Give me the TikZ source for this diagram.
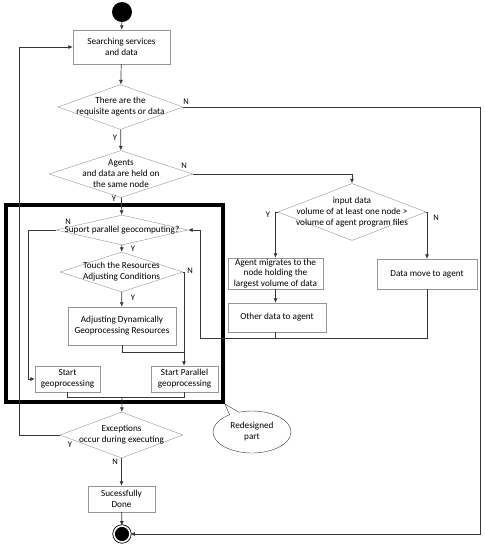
\documentclass[tikz,border=0pt]{standalone}
\usepackage{fontspec}
\setmainfont{Carlito}
\usetikzlibrary{shapes.geometric,shapes.callouts,arrows.meta}

\definecolor{flowBorder}{RGB}{150,150,150}
\definecolor{flowLine}{RGB}{55,55,55}

\tikzset{
  process/.style={draw=flowBorder, rectangle, align=center, inner sep=1pt},
  decision/.style={draw=flowBorder, diamond, inner sep=0pt},
  dtext/.style={align=center, inner sep=0pt},
  flow/.style={draw=flowLine, line width=0.7pt, -{Latex[length=4.5pt,width=4pt]}},
  plain/.style={draw=flowLine, line width=0.7pt},
  yn/.style={inner sep=0pt, font=\fontsize{8.5}{9}\selectfont},
}

\begin{document}
\begin{tikzpicture}[x=1pt, y=-1pt, font=\fontsize{9.2}{11}\selectfont]
\useasboundingbox (0,0) rectangle (485,550);
%% start and first checks
\node[circle, fill=black, minimum size=20pt, inner sep=0pt] (start) at (122,12) {};
\node[process, minimum width=97pt, minimum height=34pt] (search) at (121.5,47)
  {Searching services\\and data};
\node[decision, minimum width=125pt, minimum height=45pt] (d1) at (120.5,107) {};
\node[dtext] at (d1) {There are the\\requisite agents or data};
\node[decision, minimum width=144pt, minimum height=47pt] (d2) at (121,174) {};
\node[dtext] at (d2) {Agents\\and data are held on\\the same node};
%% moving agents or data
\node[decision, minimum width=148pt, minimum height=57pt] (d3) at (352,212) {};
\node[dtext] at (d3) {input data\\volume of at least one node >\\volume of agent program files};
\node[process, minimum width=95pt, minimum height=31pt, inner sep=0pt,
      font=\fontsize{9.2}{10.5}\selectfont] (agent) at (275.5,273.5)
  {Agent migrates to the\\node holding the\\largest volume of data};
\node[process, minimum width=98pt, minimum height=29pt] (other) at (277,317.5)
  {Other data to agent};
\node[process, minimum width=100pt, minimum height=30pt] (data) at (427,274)
  {Data move to agent};
%% redesigned part
\node[draw=black, line width=3.5pt, minimum width=217pt, minimum height=197pt,
      inner sep=0pt] (frame) at (114.5,303.5) {};
\node[decision, minimum width=132pt, minimum height=30pt] (d4) at (122,230) {};
\node[dtext] at (d4) {Suport parallel geocomputing?};
\node[decision, minimum width=123pt, minimum height=40pt] (d5) at (121.5,272) {};
\node[dtext] at (d5) {Touch the Resources\\Adjusting Conditions};
\node[process, minimum width=108pt, minimum height=38pt] (adjust) at (122,326)
  {Adjusting Dynamically\\Geoprocessing Resources};
\node[process, minimum width=65pt, minimum height=26pt] (startgeo) at (67.5,379)
  {Start\\geoprocessing};
\node[process, minimum width=67pt, minimum height=26pt] (startpar) at (184.5,379)
  {Start Parallel\\geoprocessing};
%% ending
\node[decision, minimum width=123pt, minimum height=46pt] (d6) at (121.5,435) {};
\node[dtext] at (d6) {Exceptions\\occur during executing};
\node[process, minimum width=67pt, minimum height=26pt] (done) at (121.5,499)
  {Sucessfully\\Done};
\node[circle, fill=black, draw=black, line width=0.8pt, double=white,
      double distance=1.6pt, minimum size=16pt, inner sep=0pt] (stop) at (122,534) {};
\node[ellipse callout, draw=flowLine, align=center, inner sep=0pt,
      minimum width=78pt, minimum height=42pt,
      callout absolute pointer={(frame.south east)}] (note) at (252,432)
  {Redesigned\\part};

%% connectors
\coordinate (joinR) at (200,338);
\coordinate (joinL) at (122,397);
\draw[flow] (start) -- (search);
\draw[flow] (search) -- (d1);
\draw[flow] (d1) -- (d2);
\draw[flow] (d1.east) -- (480,107) |- (stop.east);
\draw[flow] (d2) -- (d4);
\draw[flow] (d2.east) -| (d3.north);
\draw[flow] (d3.west) -| (agent.north);
\draw[flow] (d3.east) -| (data.north);
\draw[flow] (agent.south) -- (agent.south |- other.north);
\draw[plain] (other.south -| agent.south) -- (agent.south |- joinR);
\draw[flow] (data.south) |- (joinR) |- (d4.east);
\draw[flow] (d4.west) -- (28,230) |- (startgeo.west);
\draw[flow] (d4) -- (d5);
\draw[flow] (d5) -- (adjust);
\draw[flow] (d5.east) -- (184,272) -- (184,272 |- startpar.north);
\draw[plain] (adjust.south) -- (122,352) -- (184,352);
\draw[plain] (startgeo.south) |- (184,397) -- (184,397 |- startpar.south);
\draw[flow] (joinL) -- (d6);
\draw[flow] (d6.west) -- (19,435) |- (search.west);
\draw[flow] (d6) -- (done);
\draw[flow] (done) -- (stop);

%% Y / N labels
\node[yn] at (186,102) {N};
\node[yn] at (115,138) {Y};
\node[yn] at (184,166) {N};
\node[yn] at (114,199) {Y};
\node[yn] at (268,215) {Y};
\node[yn] at (436,218) {N};
\node[yn] at (68,222) {N};
\node[yn] at (133,249) {Y};
\node[yn] at (190,271) {N};
\node[yn] at (133,298) {Y};
\node[yn] at (70,445) {Y};
\node[yn] at (115,462) {N};
\end{tikzpicture}
\end{document}
